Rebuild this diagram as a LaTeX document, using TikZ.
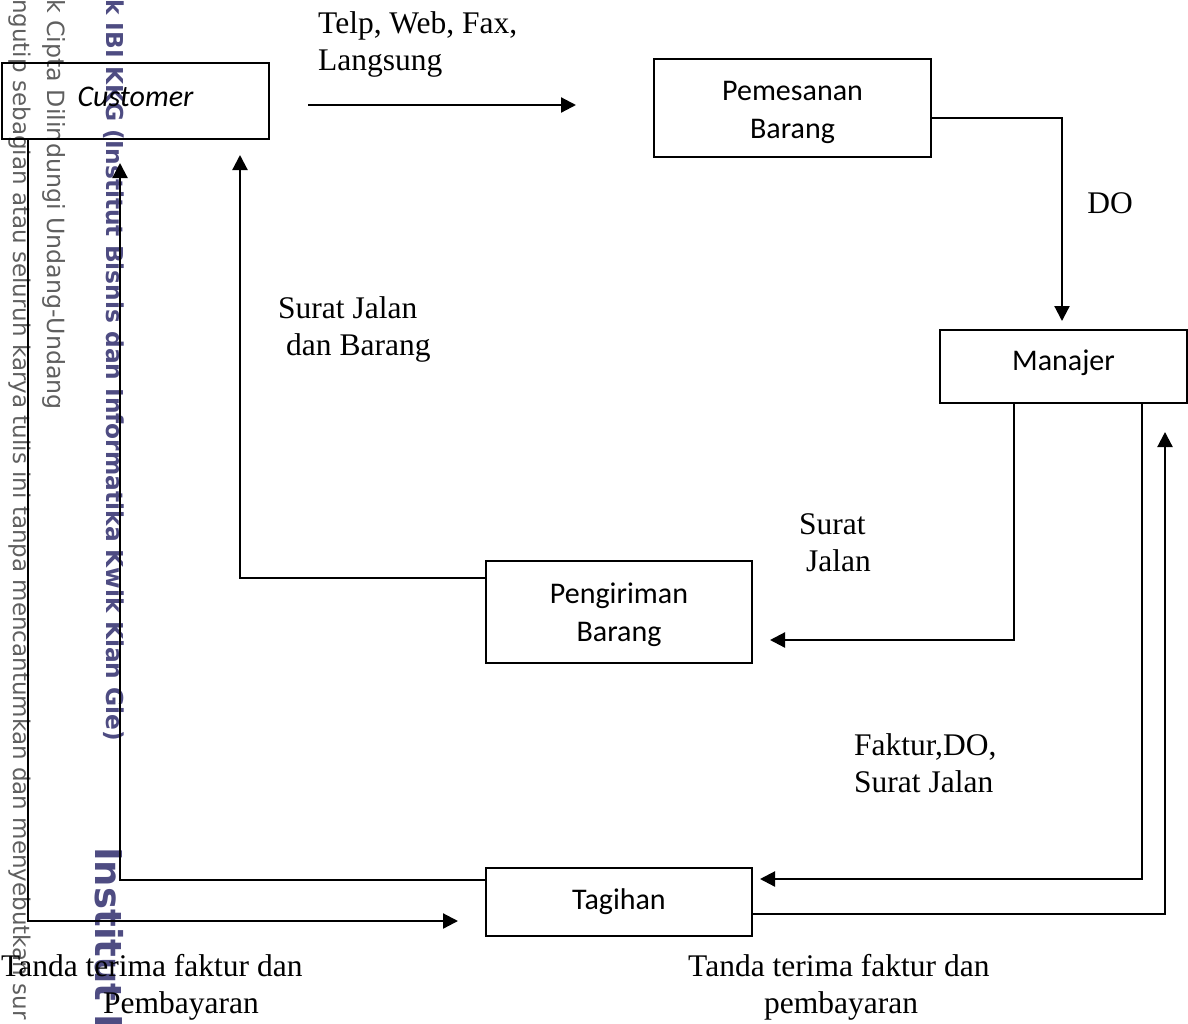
\documentclass[tikz,border=0pt]{standalone}
\usepackage{fontspec}
\setmainfont{Liberation Serif}
\newfontfamily\boxfont{Carlito}
\newfontfamily\wmfont{DejaVu Sans}
\usetikzlibrary{arrows.meta}
\definecolor{wmgray}{RGB}{95,95,95}
\definecolor{wmpurple}{RGB}{78,76,130}
\begin{document}
\begin{tikzpicture}[x=1pt,y=-1pt,
  box/.style={draw, line width=2pt, inner sep=0pt, outer sep=0pt, align=center,
    font=\boxfont\fontsize{30}{38}\selectfont},
  conn/.style={line width=2.2pt},
  arr/.style={conn, -{Triangle[length=15pt,width=15pt]}},
  lbl/.style={inner sep=0pt, align=left, anchor=base west,
    font=\fontsize{31.5}{37}\selectfont},
  wm/.style={inner sep=0pt, rotate=-90, anchor=base west, text=wmgray,
    font=\wmfont\fontsize{23}{23}\selectfont},
  wmb/.style={wm, text=wmpurple, font=\wmfont\bfseries\fontsize{23.3}{23}\selectfont}
]
\useasboundingbox (0,0) rectangle (1188,1023);

% watermark (cut off at the left edge)
\node[wm] (wm1) at (13,-1) {ngutip sebagian atau seluruh karya tulis ini tanpa mencantumkan dan menyebutkan sur};
\node[wm, font=\wmfont\fontsize{23.7}{23}\selectfont] (wm2) at (47,-1) {k Cipta Dilindungi Undang-Undang};
\node[wmb] (wm3) at (106,-1) {k IBI KKG (Institut Bisnis dan Informatika Kwik Kian Gie)};
\node[wmb, font=\wmfont\bfseries\fontsize{37}{37}\selectfont] (wm4) at (95,847) {Institut B};

% boxes
\node[box, minimum width=267pt, minimum height=76pt, text height=19pt, text depth=8pt,
  font=\boxfont\itshape\fontsize{30}{38}\selectfont] (cust) at (135.5,101) {Customer};
\node[box, minimum width=277pt, minimum height=98pt, text height=66pt] (pem) at (792.5,108) {Pemesanan\\Barang};
\node[box, minimum width=247pt, minimum height=73pt, text height=19pt, text depth=12pt] (man) at (1063.5,366.5) {Manajer};
\node[box, minimum width=266pt, minimum height=102pt, text height=65pt] (peng) at (619,612) {Pengiriman\\Barang};
\node[box, minimum width=266pt, minimum height=68pt] (tag) at (619,902) {Tagihan};

% connectors
\coordinate (a1s) at (308,105);
\coordinate (a1e) at (576,105);
\draw[arr] (a1s) -- (a1e);

\coordinate (k1) at (1062,118);
\draw[arr, shorten >=9pt] (pem.east |- k1) -| (man.north -| k1);

\coordinate (k2) at (1014,640);
\draw[arr, shorten >=18pt] (man.south -| k2) |- (peng.east |- k2);

\coordinate (k3) at (240,578);
\draw[arr, shorten >=16pt] (peng.west |- k3) -| (cust.south -| k3);

\coordinate (k4) at (1142,879);
\draw[arr, shorten >=8pt] (man.south -| k4) |- (tag.east |- k4);

\coordinate (k5) at (1165,914);
\draw[arr, shorten >=29pt] (tag.east |- k5) -| (man.south -| k5);

\coordinate (k6) at (120,880);
\draw[arr, shorten >=24pt] (tag.west |- k6) -| (cust.south -| k6);

\coordinate (k7) at (28,921);
\draw[arr, shorten >=28pt] (cust.south -| k7) |- (tag.west |- k7);

% labels (anchor: baseline of the last line)
\node[lbl] (l1) at (318,70) {Telp, Web, Fax,\\Langsung};
\node[lbl, anchor=base] (l2) at (1110,213) {DO};
\node[lbl] (l3) at (278,355) {Surat Jalan\\\hspace*{8pt}dan Barang};
\node[lbl] (l4) at (799,571) {Surat\\\hspace*{7pt}Jalan};
\node[lbl] (l5) at (854,792) {Faktur,DO,\\Surat Jalan};
\node[lbl] (l6) at (688,1013) {Tanda terima faktur dan\\\hspace*{76pt}pembayaran};
\node[lbl] (l7) at (1,1013) {Tanda terima faktur dan\\\hspace*{102pt}Pembayaran};
\end{tikzpicture}
\end{document}
